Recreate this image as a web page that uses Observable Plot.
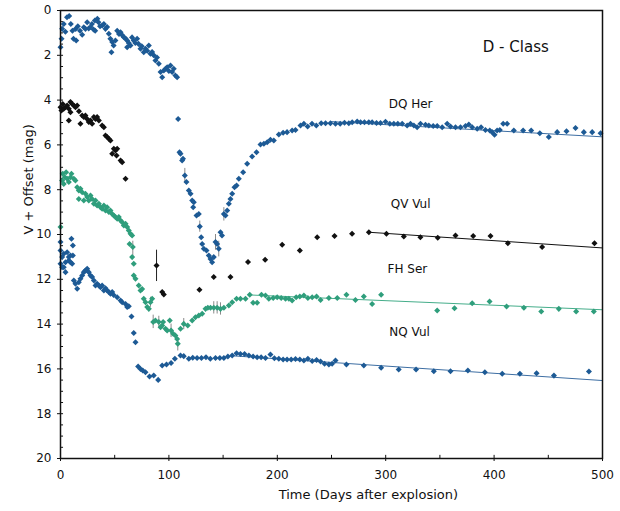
<!DOCTYPE html>
<html><head><meta charset="utf-8">
<script src="https://cdn.jsdelivr.net/npm/d3@7"></script>
<script src="https://cdn.jsdelivr.net/npm/@observablehq/plot@0.6"></script>
<style>body{margin:0;background:#fff}</style>
</head><body><div id="chart"></div>
<script>
// [day after explosion, V + offset]
const dqHer = [[0,1.64],[1,1.26],[1.5,0.82],[3,0.6],[4.5,0.95],[6,0.3],[8,0.25],[9.5,0.6],[11,0.9],[12,1.26],[14,0.82],[14.5,1.34],[16,0.7],[18,0.9],[20,1.08],[21.5,0.75],[23,0.82],[24.6,0.52],[26,0.8],[27.7,0.74],[29,0.6],[30.5,0.85],[31.7,0.45],[32,0.9],[34,0.37],[35,0.52],[36.5,0.7],[38.5,0.67],[40,0.6],[41.5,0.82],[43,0.74],[44.6,1.04],[46,1.26],[47,1.86],[47.7,1.41],[49,1.56],[50.7,1.34],[52.3,0.9],[54,1.05],[55.4,0.97],[57,1.1],[58.4,1.19],[60,1.25],[61.5,1.34],[61.5,1.64],[63,1.45],[64.6,1.56],[66,1.2],[67.6,1.34],[69,1.45],[70.7,1.26],[72,1.49],[73.8,1.71],[75,1.6],[76.8,1.86],[78.4,1.71],[80,1.8],[81.5,1.56],[83,1.93],[84.5,1.85],[86,2.0],[87.6,2.23],[89,2.1],[90.7,2.38],[92.3,2.75],[93.8,2.98],[95.3,2.68],[97,2.6],[98.4,2.53],[100,2.7],[101.5,2.46],[103,2.75],[104.5,2.6],[106,2.9],[107.6,2.98],
[108.5,4.84],[109.8,6.33],[110.7,6.4],[112.2,6.7],[113,6.62],[114.7,7.37],[116.2,7.66],[118.4,8.04],[120,8.18],[121.5,8.48],[122.4,8.78],[123,8.56],[125.5,9.15],[127.6,9.08],[128.5,9.64],[129.8,10.12],[130.7,10.42],[132.2,10.64],[134.7,10.71],[136.8,10.94],[138.4,11.09],[139.9,11.24],[141.4,11.01],[143,10.34],[144.5,10.42],[146,10.64],[147.6,9.9],[149,10.04],[150.7,9.08],[152.2,9.15],[153.8,8.93],[155.3,8.63],[156.8,8.41],[158.4,8.18],[160.5,7.89],[162.4,7.81],[164.5,7.51],[168.5,7.22],[172.2,6.84],[176.8,6.52],[180.8,6.33],[184.5,5.98],[187.6,5.95],[190.7,5.88],[193.7,5.77],[196.8,5.8],[201.4,5.54],[205.4,5.46],[209,5.43],[213.7,5.36],[216.8,5.33],[221.4,5.13],[224.5,5.06],[228,5.18],[232,5.06],[236,5.13],[240.5,5.03],[244.5,5.03],[249,5.03],[253.7,5.06],[258,5.06],[262,5.01],[266,5.03],[269.1,4.99],[273.7,4.96],[276.8,4.99],[280.4,4.99],[284.4,4.99],[287.5,4.99],[291.5,5.02],[295.2,5.02],[299.8,4.97],[303.8,5.06],[307.5,5.06],[311.2,5.06],[315.2,5.06],[319.8,5.13],[322.9,5.06],[326,5.13],[329,5.21],[332.1,5.06],[336.7,5.1],[339.8,5.13],[343.8,5.16],[347.5,5.16],[352.1,5.21],[356.7,5.06],[359.8,5.18],[364.4,5.21],[369,5.21],[373.6,5.16],[376.7,5.09],[379.8,5.21],[384.4,5.28],[388,5.21],[392,5.33],[396,5.36],[398.2,5.43],[400.4,5.55],[402.8,5.36],[405.3,5.33],[408.4,5.06],[412,5.06],[418.2,5.36],[426.8,5.36],[434.2,5.36],[442.2,5.48],[450.5,5.65],[458.2,5.43],[466.8,5.39],[475.1,5.25],[482.8,5.43],[490.5,5.43],[498.2,5.48]];

const qvVul = [[0,4.32],[0.9,4.46],[2.1,4.17],[3,4.39],[4.6,4.32],[6.1,4.24],[7.7,4.39],[7.7,4.91],[9.2,4.09],[9.2,4.54],[10.8,4.17],[12.3,4.24],[13.8,4.32],[15.4,4.24],[17,4.5],[18.4,5.06],[20,4.69],[21.5,4.75],[23,4.69],[24.6,4.84],[26.1,4.98],[27.7,4.91],[29.2,5.06],[30.8,4.76],[32.3,4.84],[33.8,4.76],[35.4,4.91],[38.4,5.13],[40,5.21],[41.5,5.58],[43,5.65],[44.6,5.73],[46.1,5.8],[47.7,6.4],[49.2,6.17],[50.7,6.25],[51.7,6.47],[52.3,6.17],[55.4,6.7],[56.9,6.77],[60,7.51],
[88.6,11.38],[93.8,12.57],[95.3,12.68],[128.2,12.47],[141.4,11.9],[156.8,11.9],[173,11.23],[188.8,11.13],[204.5,10.46],[220.8,10.71],[236.8,10.12],[252.8,10.07],[269,9.97],[284.5,9.9],[300.7,9.97],[316.7,10.09],[332,10.12],[348,10.15],[364.4,10.04],[380.7,10.07],[396.7,10.07],[412.7,10.39],[444.3,10.56],[492.6,10.39]];

const fhSer = [[0,9.67],[1.5,7.59],[2.1,7.29],[3,7.74],[4,7.44],[5.2,7.22],[6.1,7.51],[7.7,7.66],[9.2,7.44],[10.1,7.29],[12.3,7.51],[13.8,7.59],[15.4,7.89],[16.9,8.04],[16.9,8.41],[18.4,7.96],[20,8.11],[21.5,8.48],[23,8.18],[24.6,8.33],[26.1,8.48],[27.7,8.26],[29.2,8.41],[30.8,8.63],[32.3,8.48],[33.8,8.71],[35.4,8.63],[36.9,8.78],[38.4,8.85],[40,8.71],[41.5,8.93],[43,8.78],[44.6,9.0],[46.1,8.93],[47.7,9.08],[49.2,9.15],[50.7,9.22],[52.3,9.3],[53.8,9.22],[55.4,9.37],[56.9,9.45],[58.4,9.6],[60,9.52],[61.5,9.67],[63,9.82],[63.7,10.42],[64.6,9.97],[66.1,10.04],[66.1,11.01],[66.7,10.56],[67.6,11.31],[67.6,11.83],[69.2,11.98],[72.2,12.28],[73.8,12.5],[75.3,12.43],[76.8,12.87],[78.4,13.02],[80,13.24],[81.5,13.32],[83,13.02],[84.6,12.87],[85.5,13.91],[87.6,13.84],[90.7,13.91],[92.3,14.14],[93.8,14.06],[94.7,13.91],[96.9,14.21],[98.4,14.29],[100.8,13.84],[102,14.29],[103.9,14.43],[106,14.51],[107.6,14.66],[108.2,14.88],[110.7,14.21],[113.7,13.99],[117.4,14.06],[121.5,13.84],[124.5,13.69],[127.6,13.62],[130.7,13.54],[133.8,13.32],[135.9,13.27],[138.4,13.27],[141.4,13.27],[144.5,13.27],[147.6,13.32],[150.7,13.27],[155.3,13.17],[158.4,13.02],[162.4,12.87],[166,12.87],[170.7,12.87],[174.6,12.69],[177.7,13.05],[181.4,13.05],[185.4,12.69],[189.1,12.72],[192.2,12.87],[196.2,12.83],[199.9,12.8],[203.6,12.83],[207.6,12.87],[210.7,12.87],[213.7,12.95],[217.4,12.8],[220.8,12.77],[224.5,12.72],[228.2,12.83],[232.2,12.8],[236.2,12.77],[239.9,12.92],[247.6,12.83],[255.3,12.83],[263.8,12.69],[272.1,12.92],[279.8,12.77],[287.5,13.1],[295.8,12.69],[347.5,13.39],[363.5,13.29],[379.8,13.07],[395.8,12.99],[411.5,13.21],[427.5,13.27],[443.5,13.44],[459.7,13.32],[475.7,13.44],[492,13.44]];

const nqVul = [[0,10.34],[0,10.71],[0,11.31],[1.5,11.01],[1.5,11.46],[3,10.86],[3,11.46],[4.6,11.24],[4.6,11.68],[6.1,10.79],[7.7,11.01],[7.7,11.16],[9.2,11.24],[9.2,10.94],[10.1,10.19],[10.8,11.31],[11.4,10.49],[11.4,10.94],[12.3,12.05],[13.8,12.2],[15.4,12.42],[16.9,12.13],[18.4,11.98],[20,11.83],[21.5,11.68],[23,11.61],[24.6,11.53],[26.1,11.68],[27.7,11.83],[29.2,11.9],[30.8,12.05],[32.3,12.28],[33.8,12.2],[35.4,12.28],[36.9,12.35],[38.4,12.28],[40,12.5],[41.5,12.4],[43,12.5],[44.6,12.57],[46.1,12.65],[47.7,12.57],[49,12.7],[52.3,12.8],[55.4,12.95],[56.9,13.02],[60,13.1],[61.5,13.24],[63,13.2],[65.5,13.66],[67.6,14.4],[69.2,14.81],[71.6,15.89],[73.8,16.0],[75.9,16.07],[78.4,16.15],[82.1,16.34],[86,16.29],[90.1,16.49],[93.8,15.85],[97.8,15.8],[102,15.74],[105.5,15.55],[110.7,15.4],[113.7,15.43],[118.4,15.55],[122,15.5],[126,15.51],[130,15.51],[134.2,15.48],[138.2,15.55],[143,15.51],[147,15.51],[150.7,15.51],[154.4,15.45],[158.4,15.4],[162.4,15.3],[166,15.33],[169.8,15.33],[173.8,15.4],[177.7,15.45],[181.4,15.48],[185.1,15.48],[189.1,15.51],[193.7,15.36],[197.3,15.52],[201.4,15.55],[205.4,15.58],[209,15.58],[212.8,15.58],[216.8,15.56],[220.8,15.58],[224.5,15.62],[228.2,15.55],[232.2,15.65],[236.2,15.6],[239.9,15.67],[243.6,15.77],[247.6,15.8],[250.6,15.77],[253.7,15.62],[263.8,15.8],[279.8,15.85],[295.8,15.95],[312,16.03],[328,16.03],[344.4,16.1],[359.8,16.1],[375.8,16.07],[391.5,16.15],[407.5,16.22],[423.8,16.22],[439.2,16.19],[455.2,16.3],[487.5,16.12]];

// linear fits to the late decline [day, mag]
const dqFit = [[250,4.96],[500,5.64]];
const qvFit = [[284.5,9.9],[500,10.6]];
const fhFit = [[175,12.7],[500,13.36]];
const nqFit = [[160,15.42],[500,16.52]];

// error bars [day, low, high]
const qvErr = [[88.6,10.7,12.1]];
const fhErr = [[66.7,10.3,11.05],[83,12.8,13.25],[85.5,13.6,14.2],[90.7,13.65,14.2],[102,14.0,14.6],[108.2,14.6,15.2],[113.7,13.75,14.25],[141.4,13.0,13.55],[144.5,13.0,13.55],[147.6,13.05,13.6]];
const dqErr = [[114.7,7.05,7.7],[128.5,9.4,9.9],[143,10.0,10.7],[146,10.3,11.0],[150.7,8.8,9.4]];

const names = ["DQ Her","QV Vul","FH Ser","NQ Vul"];
const labelDays = [323, 323, 320, 322];
const labelMags = [4.2, 8.66, 11.56, 14.38];
const xTicks = [0,100,200,300,400,500];
const yTicks = [0,2,4,6,8,10,12,14,16,18,20];

const blue = "#1d5a95", teal = "#2f9e7c";
const series = [
  {data: dqHer, fit: dqFit, err: dqErr, color: blue, line: "#3d6ea3", errc: "#8a8a8a"},
  {data: qvVul, fit: qvFit, err: qvErr, color: "#111", line: "#111", errc: "#222"},
  {data: fhSer, fit: fhFit, err: fhErr, color: teal, line: "#45ad8a", errc: "#8a8a8a"},
  {data: nqVul, fit: nqFit, err: [], color: blue, line: "#3d6ea3", errc: "#8a8a8a"}
];

const marks = [];
for (const s of series) {
  marks.push(Plot.line(s.fit, {x: d => d[0], y: d => d[1], stroke: s.line, strokeWidth: 1}));
  marks.push(Plot.ruleX(s.err, {x: d => d[0], y1: d => d[1], y2: d => d[2], stroke: s.errc, strokeWidth: 1}));
  marks.push(Plot.dot(s.data, {x: d => d[0], y: d => d[1], symbol: "square", r: 2.4, rotate: 45, fill: s.color, stroke: "none"}));
}
const labels = names.map((n, i) => ({n, x: labelDays[i], y: labelMags[i]}));

const chart = Plot.plot({
  width: 620, height: 511,
  marginLeft: 60, marginRight: 18, marginTop: 10, marginBottom: 53,
  style: {fontFamily: "DejaVu Sans, sans-serif", fontSize: "12px", background: "#fff", color: "#111"},
  x: {domain: [0, 500]},
  y: {domain: [0, 20], reverse: true},
  marks: [
    Plot.axisX({ticks: xTicks, tickSize: 3, tickPadding: 9, label: null, fontSize: 12}),
    Plot.axisY({ticks: yTicks, tickSize: 3, tickPadding: 6, label: null, fontSize: 12}),
    Plot.ruleY(d3.range(0, 20.01, 0.5), {y: d => d, x1: 0, x2: 2.8, stroke: "#111"}),
    Plot.ruleX(d3.range(0, 501, 50), {x: d => d, y1: 20, y2: 19.86, stroke: "#111"}),
    ...marks,
    Plot.text(labels, {x: "x", y: "y", text: "n", fontSize: 12, fill: "#111"}),
    Plot.text(["D - Class"], {x: 420, y: 1.65, text: d => d, fontSize: 15, fill: "#111"}),
    Plot.text(["Time (Days after explosion)"], {x: 284, y: 20, dy: 36, text: d => d, fontSize: 13, fill: "#111"}),
    Plot.text(["V + Offset (mag)"], {frameAnchor: "left", rotate: -90, dx: -32, text: d => d, fontSize: 13, fill: "#111"}),
    Plot.frame({stroke: "#111", strokeWidth: 1.5})
  ]
});
document.getElementById("chart").append(chart);
</script>
</body></html>
